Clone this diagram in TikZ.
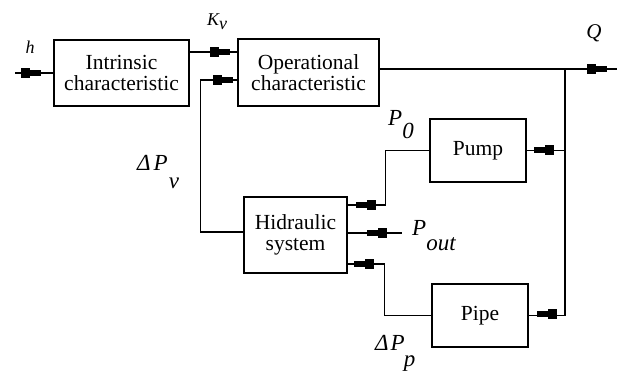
\documentclass[tikz,border=0pt]{standalone}
\usepackage{fontspec}
\setmainfont{Liberation Serif}
\newfontfamily\boxfont{Liberation Serif}
\begin{document}
\begin{tikzpicture}[x=1pt,y=-1pt,
  blk/.style={draw, line width=1.2pt, inner sep=0pt, align=center,
              font=\boxfont\fontsize{21.5}{21}\selectfont},
  wire/.style={line width=1.2pt},
  small/.style={font=\boxfont\fontsize{18}{18}\selectfont\itshape, inner sep=0pt},
  big/.style={font=\boxfont\fontsize{23}{23}\selectfont\itshape, inner sep=0pt, anchor=base west},
  plug/.pic={\fill (-9pt,-5pt) rectangle (0pt,5pt); \fill (0pt,-3pt) rectangle (11pt,3pt);}]
\useasboundingbox (0,0) rectangle (617,376);
% blocks
\node[blk, minimum width=135pt, minimum height=66pt] (intr) at (121.5,73) {Intrinsic\\characteristic};
\node[blk, minimum width=141pt, minimum height=67pt] (oper) at (308.5,72.5) {Operational\\characteristic};
\node[blk, minimum width=96pt, minimum height=63pt] (pump) at (478,150.5) {Pump};
\node[blk, minimum width=103pt, minimum height=76pt] (hidr) at (295.5,235) {Hidraulic\\system};
\node[blk, minimum width=96pt, minimum height=63pt] (pipe) at (480,315.5) {Pipe};
% free ends
\coordinate (hin) at (15,73);
\coordinate (j) at (565,69);
\coordinate (qout) at (617,69);
% wires
\draw[wire] (hin) -- (intr.west);
\draw[wire] ([yshift=21pt]intr.east) coordinate (kv) -- (kv -| oper.west);
\draw[wire] ([yshift=3pt]hidr.west) -- ++(-43,0) |- ([yshift=-7.5pt]oper.west);
\draw[wire] ([yshift=3.5pt]oper.east) -- (qout);
\draw[wire] (j) -- (j |- pipe.east);
\draw[wire] (pump.east) -- (pump.east -| j);
\draw[wire] (pipe.east) -- (pipe.east -| j);
\draw[wire] (pump.west) -- ++(-44,0) |- ([yshift=30pt]hidr.east);
\draw[wire] ([yshift=2pt]hidr.east) -- ++(54,0) coordinate (pout);
\draw[wire] ([yshift=-29pt]hidr.east) -- ++(37,0) |- (pipe.west);
% plugs
\pic at (30,73) {plug};
\pic at (219,52) {plug};
\pic at (222,80) {plug};
\pic at (596,69) {plug};
\pic[rotate=180] at (545,150) {plug};
\pic[rotate=180] at (548,314) {plug};
\pic[rotate=180] at (367,205) {plug};
\pic[rotate=180] at (378,233) {plug};
\pic[rotate=180] at (365,264) {plug};
% labels
\node[small] (lh) at (30,47) {h};
\node[small] (lkv) at (217,22) {K\raisebox{-4pt}{v}};
\node[small, font=\boxfont\fontsize{21}{21}\selectfont\itshape] (lq) at (594,33) {Q};
\node[big] (ldpv) at (137,170) {Δ\hspace{3pt}P\hspace{1pt}\raisebox{-18pt}{v}};
\node[big] (lp0) at (388,125) {P\raisebox{-13pt}{0}};
\node[big] (lpout) at (412,235) {P\raisebox{-15pt}{out}};
\node[big] (ldpp) at (375,350) {Δ\hspace{2pt}P\hspace{-1pt}\raisebox{-16pt}{p}};
\end{tikzpicture}
\end{document}
